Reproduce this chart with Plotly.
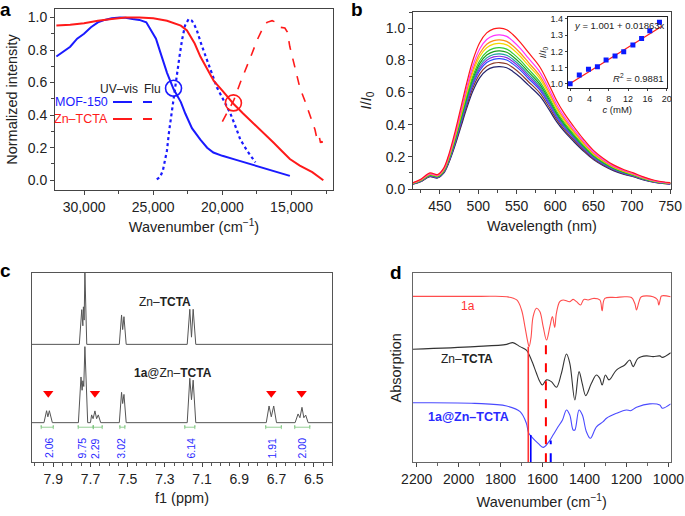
import plotly.graph_objects as go

W, H = 685, 516
FONT = "Liberation Sans, Arial, sans-serif"

# ---- panel a: absorption / emission (wavenumber, normalized) ----
mof_uv_x = [32000, 31500, 31000, 30500, 30000, 29500, 29000, 28500, 28000, 27400, 27000, 26500,
            26000, 25500, 25200, 24800, 24500, 24250, 24000, 23530, 23000, 22680, 22200, 21590,
            21100, 20650, 20000, 19000, 18000, 17000, 16000, 15120]
mof_uv_y = [0.76, 0.79, 0.82, 0.87, 0.90, 0.94, 0.97, 0.985, 0.995, 1.0, 0.998, 0.99,
            0.985, 0.97, 0.93, 0.87, 0.79, 0.72, 0.66, 0.56, 0.48, 0.41, 0.32, 0.25,
            0.20, 0.17, 0.15, 0.125, 0.10, 0.075, 0.05, 0.027]
mof_flu_x = [24740, 24500, 24300, 24150, 24010, 23850, 23650, 23450, 23280, 23100, 22920, 22700,
             22440, 22200, 22000, 21840, 21500, 21120, 20750, 20390, 19900, 19420, 19050, 18700,
             18200, 17610]
mof_flu_y = [0.005, 0.02, 0.06, 0.12, 0.18, 0.30, 0.43, 0.54, 0.64, 0.76, 0.86, 0.95,
             0.99, 0.98, 0.95, 0.92, 0.83, 0.74, 0.65, 0.57, 0.49, 0.41, 0.33, 0.25,
             0.18, 0.11]
zn_uv_x = [32000, 31000, 30000, 29000, 28000, 27000, 26000, 25000, 24000, 23500, 23000, 22560,
           22000, 21590, 21000, 20620, 20000, 19200, 18500, 17740, 17000, 16290, 15700, 15120,
           14400, 13500, 12700]
zn_uv_y = [0.95, 0.955, 0.965, 0.98, 0.99, 1.0, 1.0, 0.995, 0.98, 0.965, 0.95, 0.92,
           0.84, 0.76, 0.67, 0.61, 0.55, 0.47, 0.41, 0.35, 0.29, 0.23, 0.18, 0.13,
           0.09, 0.05, 0.0]
zn_flu_x = [20000, 19600, 19180, 18700, 18210, 17850, 17490, 17100, 16770, 16400, 16100, 15840,
            15480, 15300, 15120, 14800, 14400, 14000, 13620, 13300, 13150, 13000, 12900, 12800,
            12700]
zn_flu_y = [0.36, 0.42, 0.49, 0.60, 0.70, 0.78, 0.86, 0.93, 0.97, 0.98, 0.97, 0.94,
            0.935, 0.91, 0.82, 0.70, 0.57, 0.48, 0.39, 0.31, 0.25, 0.27, 0.23, 0.24,
            0.20]
cross_x = [23530, 19200]
cross_y = [0.565, 0.475]

# ---- panel b: emission spectra at increasing concentration ----
wl = [415, 425, 437, 447, 455, 462, 470, 478, 485, 493, 502, 511, 520, 528, 537, 545, 555,
      565, 580, 592, 602, 612, 624, 637, 650, 663, 676, 690, 702, 715, 728, 740, 750]
profile = [0.04, 0.06, 0.10, 0.09, 0.13, 0.22, 0.36, 0.52, 0.66, 0.80, 0.91, 0.97, 0.995,
           1.0, 0.99, 0.96, 0.91, 0.85, 0.76, 0.65, 0.55, 0.47, 0.39, 0.31, 0.24, 0.19,
           0.15, 0.12, 0.10, 0.075, 0.056, 0.045, 0.04]
peaks = [1.0, 0.958, 0.927, 0.905, 0.878, 0.858, 0.84, 0.825, 0.81, 0.786, 0.761]
spec_colors = ["#ff1a1a", "#ff33ff", "#ff8c1a", "#f5d800", "#33cc33", "#1a9e1a",
               "#1aa0a0", "#8a2be2", "#2b4bff", "#8b3a2a", "#23236e"]

conc = [0, 1.9, 3.8, 5.65, 7.45, 9.3, 11.1, 13.0, 14.8, 16.5, 18.5]
ratio = [1.0, 1.054, 1.089, 1.105, 1.146, 1.171, 1.198, 1.239, 1.28, 1.327, 1.379]
fit_x = [0, 19]
fit_y = [1.001, 1.001 + 0.01863 * 19]

# ---- panel c: 1H NMR ----
nmr_top_x = [8.016, 7.76, 7.747, 7.741, 7.738, 7.734, 7.730, 7.720, 7.545, 7.533, 7.527,
             7.520, 7.508, 7.18, 7.166, 7.157, 7.148, 7.134, 6.40]
nmr_top_y = [62.2, 62.2, 80.5, 72, 82, 75, 100.5, 62.2, 62.2, 77.7, 70,
             76.8, 62.2, 62.2, 80.7, 66, 80.7, 62.2, 62.2]
nmr_bot_x = [8.016, 7.95, 7.936, 7.929, 7.921, 7.905, 7.765, 7.751, 7.745, 7.741, 7.736,
             7.730, 7.715, 7.70, 7.694, 7.686, 7.676, 7.667, 7.658, 7.645, 7.545, 7.533,
             7.527, 7.520, 7.508, 7.18, 7.166, 7.157, 7.148, 7.134, 6.755, 6.740, 6.728,
             6.715, 6.70, 6.60, 6.584, 6.574, 6.563, 6.553, 6.543, 6.53, 6.40]
nmr_bot_y = [20.9, 20.9, 27.2, 24, 27.2, 20.9, 20.9, 45, 38, 43, 40,
             61, 20.9, 20.9, 25, 23, 27.1, 23, 25, 20.9, 20.9, 36.9,
             31, 35.8, 20.9, 20.9, 44.3, 33, 43.3, 20.9, 20.9, 29.7, 24,
             29.7, 20.9, 20.9, 25.5, 23.5, 29, 23.5, 24.9, 20.9, 20.9]
mark_x = [7.927, 7.676, 6.728, 6.565]
mark_y = [36.4, 36.4, 36.4, 36.4]
int_from = [7.965, 7.766, 7.685, 7.542, 7.193, 6.758, 6.602]
int_to = [7.900, 7.685, 7.637, 7.515, 7.139, 6.674, 6.521]
int_label_x = [7.923, 7.744, 7.676, 7.533, 7.157, 6.722, 6.561]
int_vals = ["2.06", "9.75", "2.29", "3.02", "6.14", "1.91", "2.00"]

# ---- panel d: IR ----
ir_1a_x = [2219, 1900, 1771, 1723, 1700, 1684, 1670, 1664, 1655, 1645, 1629, 1613, 1597, 1581,
           1565, 1553, 1542, 1534, 1518, 1502, 1470, 1454, 1438, 1419, 1403, 1383, 1359, 1327,
           1316, 1303, 1248, 1208, 1176, 1160, 1152, 1140, 1129, 1073, 1052, 1046, 1038, 1033, 989]
ir_1a_y = [87.8, 87.8, 87.6, 85.9, 80.6, 71.8, 63.5, 61.2, 66, 77.1, 81.5, 79.8, 71.8, 64.7,
           71.8, 77.1, 71.4, 78.8, 85.0, 85.9, 85.0, 86.2, 85.0, 83.2, 86.2, 85.9, 86.7, 85.9,
           80.2, 86.7, 87.2, 87.6, 87.2, 84, 80.6, 85, 87.6, 87.6, 86, 83.2, 86.5, 88.0, 87.6]
ir_zn_x = [2219, 1923, 1771, 1742, 1707, 1677, 1653, 1629, 1613, 1601, 1581, 1558, 1534, 1510,
           1486, 1470, 1446, 1426, 1411, 1394, 1367, 1343, 1327, 1316, 1300, 1283, 1248, 1208,
           1184, 1168, 1145, 1105, 1073, 1041, 1029, 989]
ir_zn_y = [59.8, 61.2, 62.4, 63.3, 61.2, 59.4, 54.1, 47.1, 42.7, 40.9, 43.6, 42.7, 39.7, 47.1,
           57.3, 52.4, 33.0, 48.0, 41.8, 35.3, 41.8, 46.2, 44.4, 40.9, 46.2, 43.6, 48.8, 51.5,
           54.1, 50.6, 55.0, 56.3, 55.9, 56.3, 55.5, 58.0]
ir_mix_x = [2219, 1923, 1771, 1707, 1677, 1667, 1653, 1621, 1597, 1573, 1550, 1526, 1505, 1486,
            1470, 1454, 1446, 1426, 1410, 1391, 1372, 1343, 1311, 1295, 1248, 1200, 1181, 1152,
            1089, 1041, 1029, 989]
ir_mix_y = [31.5, 31.2, 29.8, 26.8, 20.6, 15.7, 13.6, 10.0, 7.9, 10.4, 14.4, 18.8, 22.4, 27.7,
            25.0, 17.1, 17.1, 27.7, 25.0, 16.2, 12.7, 18.8, 21.5, 23.3, 25.9, 27.7, 27.3, 29.1,
            30.9, 30.3, 28.6, 30.9]
vl_x = [1668, 1656, 1584, 1561]
vl_top = [61.2, 14.4, 64.5, 11.5]
vl_colors = ["#ff3333", "#0000ff", "#ff0000", "#0000ff"]
vl_dash = ["solid", "solid", "dash", "dash"]


def px(x):
    return x / W


def py(y):
    return 1 - y / H


def axis(dom, rng, **kw):
    d = dict(domain=dom, range=rng, showline=True, mirror=True, linecolor="#444",
             linewidth=1, showgrid=False, zeroline=False, ticks="outside", ticklen=4,
             tickcolor="#444", tickfont=dict(size=14, color="#222"), automargin=False)
    d.update(kw)
    return d


fig = go.Figure()

# panel a
fig.add_trace(go.Scatter(x=mof_uv_x, y=mof_uv_y, mode="lines", line=dict(color="#1a1aff", width=2)))
fig.add_trace(go.Scatter(x=mof_flu_x, y=mof_flu_y, mode="lines",
                         line=dict(color="#1a1aff", width=2.2, dash="dot")))
fig.add_trace(go.Scatter(x=zn_uv_x, y=zn_uv_y, mode="lines", line=dict(color="#ff1a1a", width=2)))
fig.add_trace(go.Scatter(x=zn_flu_x, y=zn_flu_y, mode="lines",
                         line=dict(color="#ff1a1a", width=1.6, dash="dash")))
fig.add_trace(go.Scatter(x=cross_x, y=cross_y, mode="markers",
                         marker=dict(symbol="circle-open", size=16, color=["#1a1aff", "#ff1a1a"],
                                     line=dict(width=1.6))))

# panel b
for pk, col in zip(peaks[::-1], spec_colors[::-1]):
    fig.add_trace(go.Scatter(x=wl, y=[p * pk for p in profile], mode="lines",
                             line=dict(color=col, width=1.2, shape="spline"),
                             xaxis="x2", yaxis="y2"))
fig.add_trace(go.Scatter(x=fit_x, y=fit_y, mode="lines", line=dict(color="#ff1a1a", width=1.2),
                         xaxis="x3", yaxis="y3"))
fig.add_trace(go.Scatter(x=conc, y=ratio, mode="markers",
                         marker=dict(symbol="square", size=5, color="#0a1aff"),
                         xaxis="x3", yaxis="y3"))

# panel c
fig.add_trace(go.Scatter(x=nmr_top_x, y=nmr_top_y, mode="lines", line=dict(color="#555", width=1),
                         xaxis="x4", yaxis="y4"))
fig.add_trace(go.Scatter(x=nmr_bot_x, y=nmr_bot_y, mode="lines", line=dict(color="#555", width=1),
                         xaxis="x4", yaxis="y4"))
fig.add_trace(go.Scatter(x=mark_x, y=mark_y, mode="markers",
                         marker=dict(symbol="triangle-down", size=9, color="#ff0000"),
                         xaxis="x4", yaxis="y4"))
for a, b in zip(int_from, int_to):
    fig.add_trace(go.Scatter(x=[a, a, a, b, b, b], y=[17.5, 19.5, 18.5, 18.5, 19.5, 17.5],
                             mode="lines", line=dict(color="#7bc47b", width=0.8),
                             xaxis="x4", yaxis="y4"))

# panel d
fig.add_trace(go.Scatter(x=ir_1a_x, y=ir_1a_y, mode="lines",
                         line=dict(color="#ff4d4d", width=1.1, shape="spline"), xaxis="x5", yaxis="y5"))
fig.add_trace(go.Scatter(x=ir_zn_x, y=ir_zn_y, mode="lines",
                         line=dict(color="#333", width=1.1, shape="spline"), xaxis="x5", yaxis="y5"))
fig.add_trace(go.Scatter(x=ir_mix_x, y=ir_mix_y, mode="lines",
                         line=dict(color="#4a4aff", width=1.1, shape="spline"), xaxis="x5", yaxis="y5"))
for x, top, col, ds in zip(vl_x, vl_top, vl_colors, vl_dash):
    fig.add_trace(go.Scatter(x=[x, x], y=[0, top], mode="lines",
                             line=dict(color=col, width=2 if ds == "dash" else 1.6, dash=ds),
                             xaxis="x5", yaxis="y5"))

ann = []
# panel letters
for t, x, y in [("a", 5, 9), ("b", 357, 9), ("c", 5, 270), ("d", 396, 272)]:
    ann.append(dict(text=f"<b>{t}</b>", x=px(x), y=py(y), xref="paper", yref="paper",
                    showarrow=False, font=dict(size=19, color="#000"), xanchor="center", yanchor="middle"))

# panel a legend
legend_txt = [
    dict(text="UV–vis", x=px(119), y=py(89), xanchor="center", font=dict(size=12, color="#222")),
    dict(text="Flu", x=px(152), y=py(89), xanchor="center", font=dict(size=12, color="#222")),
    dict(text="MOF-150", x=px(110), y=py(102), xanchor="right", font=dict(size=12.5, color="#1a1aff")),
    dict(text="Zn–TCTA", x=px(110), y=py(119), xanchor="right", font=dict(size=12.5, color="#ff1a1a")),
]
for a in legend_txt:
    a.update(xref="paper", yref="paper", showarrow=False, yanchor="middle")
ann += legend_txt

shapes = []
for yy, col in [(102, "#1a1aff"), (119, "#ff1a1a")]:
    shapes.append(dict(type="line", xref="paper", yref="paper", x0=px(113), x1=px(132),
                       y0=py(yy), y1=py(yy), line=dict(color=col, width=2)))
    shapes.append(dict(type="line", xref="paper", yref="paper", x0=px(143), x1=px(159),
                       y0=py(yy), y1=py(yy), line=dict(color=col, width=2, dash="dash")))

# inset texts
ann += [
    dict(text="<i>y</i> = 1.001 + 0.01863x", x=0.3, y=1.36, xref="x3", yref="y3",
         xanchor="left", showarrow=False, font=dict(size=9.5, color="#222")),
    dict(text="<i>R</i><sup>2</sup> = 0.9881", x=19.6, y=1.035, xref="x3", yref="y3",
         xanchor="right", showarrow=False, font=dict(size=9.5, color="#222")),
]

# panel c texts
ann += [
    dict(text="Zn–<b>TCTA</b>", x=7.30, y=84.7, xref="x4", yref="y4", showarrow=False,
         font=dict(size=12, color="#222")),
    dict(text="<b>1a</b>@Zn–<b>TCTA</b>", x=7.256, y=47.3, xref="x4", yref="y4", showarrow=False,
         font=dict(size=12, color="#222")),
]
for x, v in zip(int_label_x, int_vals):
    ann.append(dict(text=v, x=x, y=7.5, xref="x4", yref="y4", showarrow=False, textangle=-90,
                    font=dict(size=10.5, color="#2a2aff")))

# panel d texts
ann += [
    dict(text="1a", x=1954, y=82.7, xref="x5", yref="y5", showarrow=False,
         font=dict(size=12, color="#ff3333")),
    dict(text="Zn–<b>TCTA</b>", x=1962, y=54.5, xref="x5", yref="y5", showarrow=False,
         font=dict(size=12, color="#222")),
    dict(text="<b>1a@Zn–TCTA</b>", x=1954, y=24.1, xref="x5", yref="y5", showarrow=False,
         font=dict(size=12.5, color="#2a2aff")),
]

title_font = dict(size=14.5, color="#222")
fig.update_layout(
    width=W, height=H, margin=dict(l=0, r=0, t=0, b=0, autoexpand=False),
    paper_bgcolor="white", plot_bgcolor="white", showlegend=False,
    font=dict(family=FONT, color="#222"),
    xaxis=axis([px(55), px(333)], [32100, 12000], tickvals=[30000, 25000, 20000, 15000],
               tickformat=",", minor=dict(dtick=2500, ticks="outside", ticklen=3, tickcolor="#444"),
               title=dict(text="Wavenumber (cm<sup>−1</sup>)", font=title_font, standoff=8)),
    yaxis=axis([py(190), py(9)], [-0.06, 1.052], dtick=0.2, tickformat=".1f",
               minor=dict(dtick=0.1, ticks="outside", ticklen=3, tickcolor="#444"),
               title=dict(text="Normalized intensity", font=title_font, standoff=6)),
    xaxis2=axis([px(413), px(671)], [415, 751], dtick=50, tick0=450,
                minor=dict(dtick=25, ticks="outside", ticklen=3, tickcolor="#444"),
                title=dict(text="Wavelength (nm)", font=title_font, standoff=8)),
    yaxis2=axis([py(189), py(12)], [0, 1.1], dtick=0.2, tickformat=".1f",
                minor=dict(dtick=0.1, ticks="outside", ticklen=3, tickcolor="#444"),
                title=dict(text="<i>I</i>/<i>I</i><sub>0</sub>", font=title_font, standoff=10)),
    xaxis3=axis([px(567.7), px(666.7)], [-0.5, 20], dtick=4, ticklen=2, linecolor="#222",
                tickfont=dict(size=9, color="#222"),
                title=dict(text="<i>c</i> (mM)", font=dict(size=9.5), standoff=2)),
    yaxis3=axis([py(88.3), py(16.7)], [0.972, 1.414], dtick=0.1, tickformat=".1f", ticklen=2,
                linecolor="#222", tickfont=dict(size=9, color="#222"),
                title=dict(text="<i>I</i>/<i>I</i><sub>0</sub>", font=dict(size=9.5), standoff=2)),
    xaxis4=axis([px(31.7), px(332.3)], [8.016, 6.40], dtick=0.2, tick0=7.9, linecolor="#555",
                minor=dict(dtick=0.05, ticks="outside", ticklen=3, tickcolor="#555"),
                title=dict(text="f1 (ppm)", font=title_font, standoff=6)),
    yaxis4=axis([py(462.3), py(272.7)], [0, 100], showticklabels=False, ticks="", linecolor="#555"),
    xaxis5=axis([px(412.7), px(670.7)], [2219, 989], dtick=200, linecolor="#666",
                minor=dict(dtick=100, ticks="outside", ticklen=3, tickcolor="#666"),
                title=dict(text="Wavenumber (cm<sup>−1</sup>)", font=title_font, standoff=10)),
    yaxis5=axis([py(462.3), py(273.3)], [0, 100], showticklabels=False, ticks="", linecolor="#666",
                title=dict(text="Absorption", font=title_font, standoff=6)),
    annotations=ann,
    shapes=shapes,
)
for i in range(2, 6):
    fig.layout[f"xaxis{i}"].anchor = f"y{i}"
    fig.layout[f"yaxis{i}"].anchor = f"x{i}"

# the page body has a default 8px margin; drop it so the figure sits at the window corner
fig.write_html("out.html", config={"displayModeBar": False},
               post_script="document.body.style.margin='0';")
